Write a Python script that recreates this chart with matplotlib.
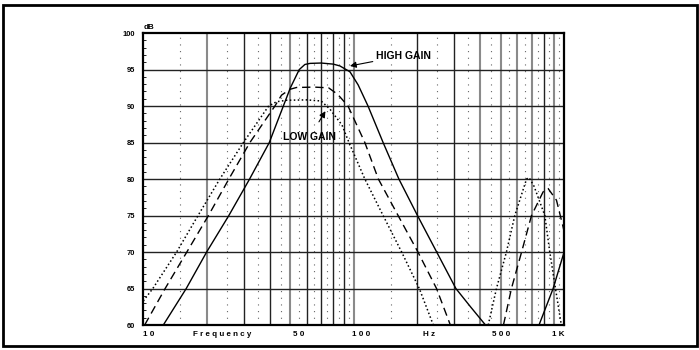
import matplotlib.pyplot as plt
from matplotlib.patches import Rectangle

plt.rcParams['font.family'] = ['Liberation Sans', 'DejaVu Sans']
plt.rcParams['font.weight'] = 'bold'

# high gain (solid)
high_f = [12.45, 16.0, 20.0, 25.5, 32.0, 39.7, 46.3, 50.0, 55.1, 58.6, 62, 70, 80, 86, 96, 105, 117, 138, 164, 201, 248, 306, 359, 423]
high_db = [60, 65, 70, 75, 80, 85, 90, 92.5, 95.0, 95.7, 95.85, 95.9, 95.75, 95.5, 94.7, 92.9, 90, 85, 80, 75, 70, 65, 62.5, 60]
high2_f = [760, 887, 1000]
high2_db = [60, 65, 70]

# mid gain (dashed)
mid_f = [10.15, 12.7, 16.1, 20.4, 25.5, 32.1, 42.2, 45.4, 49.8, 53.5, 65, 76, 84, 94, 113, 131, 162.6, 202, 247.6, 288]
mid_db = [60, 65, 70, 75, 80, 85, 90, 91.5, 92.3, 92.55, 92.6, 92.5, 91.6, 90, 85, 80, 75, 70, 65, 60]
mid2_f = [515, 562, 628, 700, 795, 840, 920, 990, 1000]
mid2_db = [60, 65, 70, 75, 78.25, 78.7, 77.1, 73.4, 72.8]

# low gain (dotted)
low_f = [10, 11.1, 14.4, 18.2, 23.1, 29.9, 39.4, 43.0, 48.0, 60, 70, 77.0, 88.0, 95.0, 113, 138, 169, 205, 239]
low_db = [63.3, 65, 70, 75, 80, 85, 90, 90.6, 90.8, 90.85, 90.7, 89.6, 87.4, 85, 80, 75, 70, 65, 60]
low2_f = [436, 477, 532, 583, 663, 682, 720, 810, 855, 910, 970]
low2_db = [60, 65, 70, 75, 80, 80.2, 79.0, 75, 70, 65, 60]

y_ticks = [60, 65, 70, 75, 80, 85, 90, 95, 100]
grid_f = [20, 30, 40, 50, 60, 70, 80, 90, 100, 200, 300, 400, 500, 600, 700, 800, 900]
gray_f = [20, 50, 100, 400, 500, 600, 700, 900]
half_f = [15, 25, 35, 45, 55, 65, 75, 85, 95, 150, 250, 350, 450, 550, 650, 750, 850, 950]
x_labels = ["1 0", "5 0", "1 0 0", "5 0 0", "1 K"]
x_label_pos = [10, 55, 109, 504, 1000]
x_label_ha = ["left", "center", "center", "center", "right"]

fig = plt.figure(figsize=(6.99, 3.5), dpi=100)
ax = fig.add_axes([0.205, 0.0714, 0.602, 0.834])
ax.set_xscale('log')
ax.set_xlim(10, 1000)
ax.set_ylim(60, 100)

# grid: dotted half-way lines, then solid lines (some print lighter)
for f in half_f:
    ax.axvline(f, color='#666666', lw=0.8, ls=(0, (1, 5)), zorder=1)
for f in grid_f:
    if f in gray_f:
        ax.axvline(f, color='#8a8a8a', lw=1.5, zorder=1)
    else:
        ax.axvline(f, color='#222222', lw=1.0, zorder=1)
for y in y_ticks[1:-1]:
    ax.axhline(y, color='#222222', lw=1.0, zorder=1)

ax.plot(high_f, high_db, color='black', lw=1.0, zorder=3)
ax.plot(high2_f, high2_db, color='black', lw=1.0, zorder=3)
ax.plot(mid_f, mid_db, color='black', lw=1.0, ls=(0, (6, 3.5)), zorder=3)
ax.plot(mid2_f, mid2_db, color='black', lw=1.0, ls=(0, (6, 3.5)), zorder=3)
ax.plot(low_f, low_db, color='black', lw=1.1, ls=(0, (1, 1.6)), zorder=3)
ax.plot(low2_f, low2_db, color='black', lw=1.1, ls=(0, (1, 1.6)), zorder=3)

for s in ax.spines.values():
    s.set_linewidth(1.6)
    s.set_color('black')

ax.set_yticks(y_ticks)
ax.set_yticklabels([str(v) for v in y_ticks], fontsize=5.4, fontweight='bold')
ax.set_yticks(range(60, 101), minor=True)
ax.tick_params(axis='y', which='major', length=0, pad=6)
ax.tick_params(axis='y', which='minor', direction='in', length=2.5, width=0.6)
ax.set_xticks([])
ax.set_xticks([], minor=True)

tr = ax.get_xaxis_transform()
for lab, pos, ha in zip(x_labels, x_label_pos, x_label_ha):
    ax.text(pos, -0.022, lab, transform=tr, ha=ha, va='top', fontsize=5.8, fontweight='bold')
ax.text(23.6, -0.022, "F r e q u e n c y", transform=tr, ha='center', va='top', fontsize=5.8, fontweight='bold')
ax.text(228, -0.022, "H z", transform=tr, ha='center', va='top', fontsize=5.8, fontweight='bold')
ax.text(0.0, 1.008, "dB", transform=ax.transAxes, ha='left', va='bottom', fontsize=5.8, fontweight='bold')

ax.annotate("HIGH GAIN", xy=(96, 95.5), xytext=(127, 96.9), fontsize=7.5, fontweight='bold',
            va='center', ha='left',
            arrowprops=dict(arrowstyle='-|>', color='black', lw=0.8, mutation_scale=9, shrinkA=0, shrinkB=0))
ax.annotate("LOW GAIN", xy=(73.4, 89.3), xytext=(61.9, 85.8), fontsize=7.5, fontweight='bold',
            va='center', ha='center',
            arrowprops=dict(arrowstyle='-|>', color='black', lw=0.8, mutation_scale=9, shrinkA=6, shrinkB=0))

fig.patches.append(Rectangle((3 / 699, 4 / 350), 694 / 699, 341 / 350, transform=fig.transFigure,
                             fill=False, edgecolor='black', lw=2.0))

fig.savefig('out.png', dpi=100)
